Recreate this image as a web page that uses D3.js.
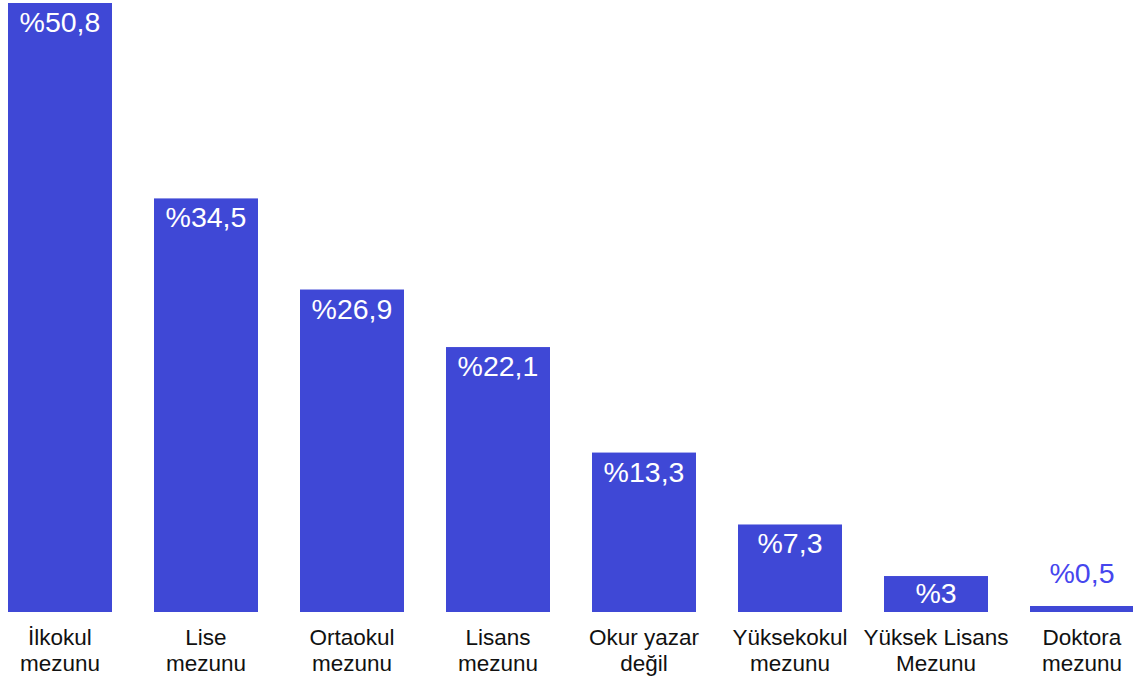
<!DOCTYPE html>
<html><head><meta charset="utf-8">
<script src="https://cdn.jsdelivr.net/npm/d3@7"></script>
<style>body{margin:0;background:#fff;}svg{display:block;font-family:"Liberation Sans",Arial,Helvetica,sans-serif;}</style>
</head><body>
<svg id="c" width="1133" height="679"></svg>
<script>
const categories = [["İlkokul","mezunu"],["Lise","mezunu"],["Ortaokul","mezunu"],["Lisans","mezunu"],["Okur yazar","değil"],["Yüksekokul","mezunu"],["Yüksek Lisans","Mezunu"],["Doktora","mezunu"]];
const values = [50.8,34.5,26.9,22.1,13.3,7.3,3,0.5];
const valueLabels = ["%50,8","%34,5","%26,9","%22,1","%13,3","%7,3","%3","%0,5"];

const svg = d3.select("#c");
const baseY = 612;
const x = d3.scaleBand().domain(d3.range(values.length)).range([8,1134]).paddingInner(0.2877).paddingOuter(0);
const y = d3.scaleLinear().domain([0,50.8]).range([baseY,3]);
const barColor = "#3f48d6";

svg.selectAll("rect.bar").data(values).join("rect")
  .attr("class","bar")
  .attr("x",(d,i)=>x(i)).attr("width",x.bandwidth())
  .attr("y",d=>y(d)).attr("height",d=>baseY-y(d))
  .attr("fill",barColor);

svg.selectAll("text.val").data(values).join("text")
  .attr("class","val")
  .attr("x",(d,i)=>x(i)+x.bandwidth()/2)
  .attr("y",d=>{
    const h = baseY - y(d);
    if (h < 25) return y(d) - 23;
    return Math.min(y(d)+29, y(d)+h/2+9);
  })
  .attr("text-anchor","middle")
  .attr("font-size",28.5)
  .attr("fill",d=> (baseY-y(d))<25 ? "#4646ee" : "#fff")
  .text((d,i)=>valueLabels[i]);

const lab = svg.selectAll("text.cat").data(categories).join("text")
  .attr("class","cat")
  .attr("text-anchor","middle")
  .attr("font-size",22.5)
  .attr("fill","#111");
lab.each(function(d,i){
  const t = d3.select(this);
  d.forEach((s,j)=>{
    t.append("tspan").attr("x",x(i)+x.bandwidth()/2).attr("y",645+j*26).text(s);
  });
});
</script>
</body></html>
